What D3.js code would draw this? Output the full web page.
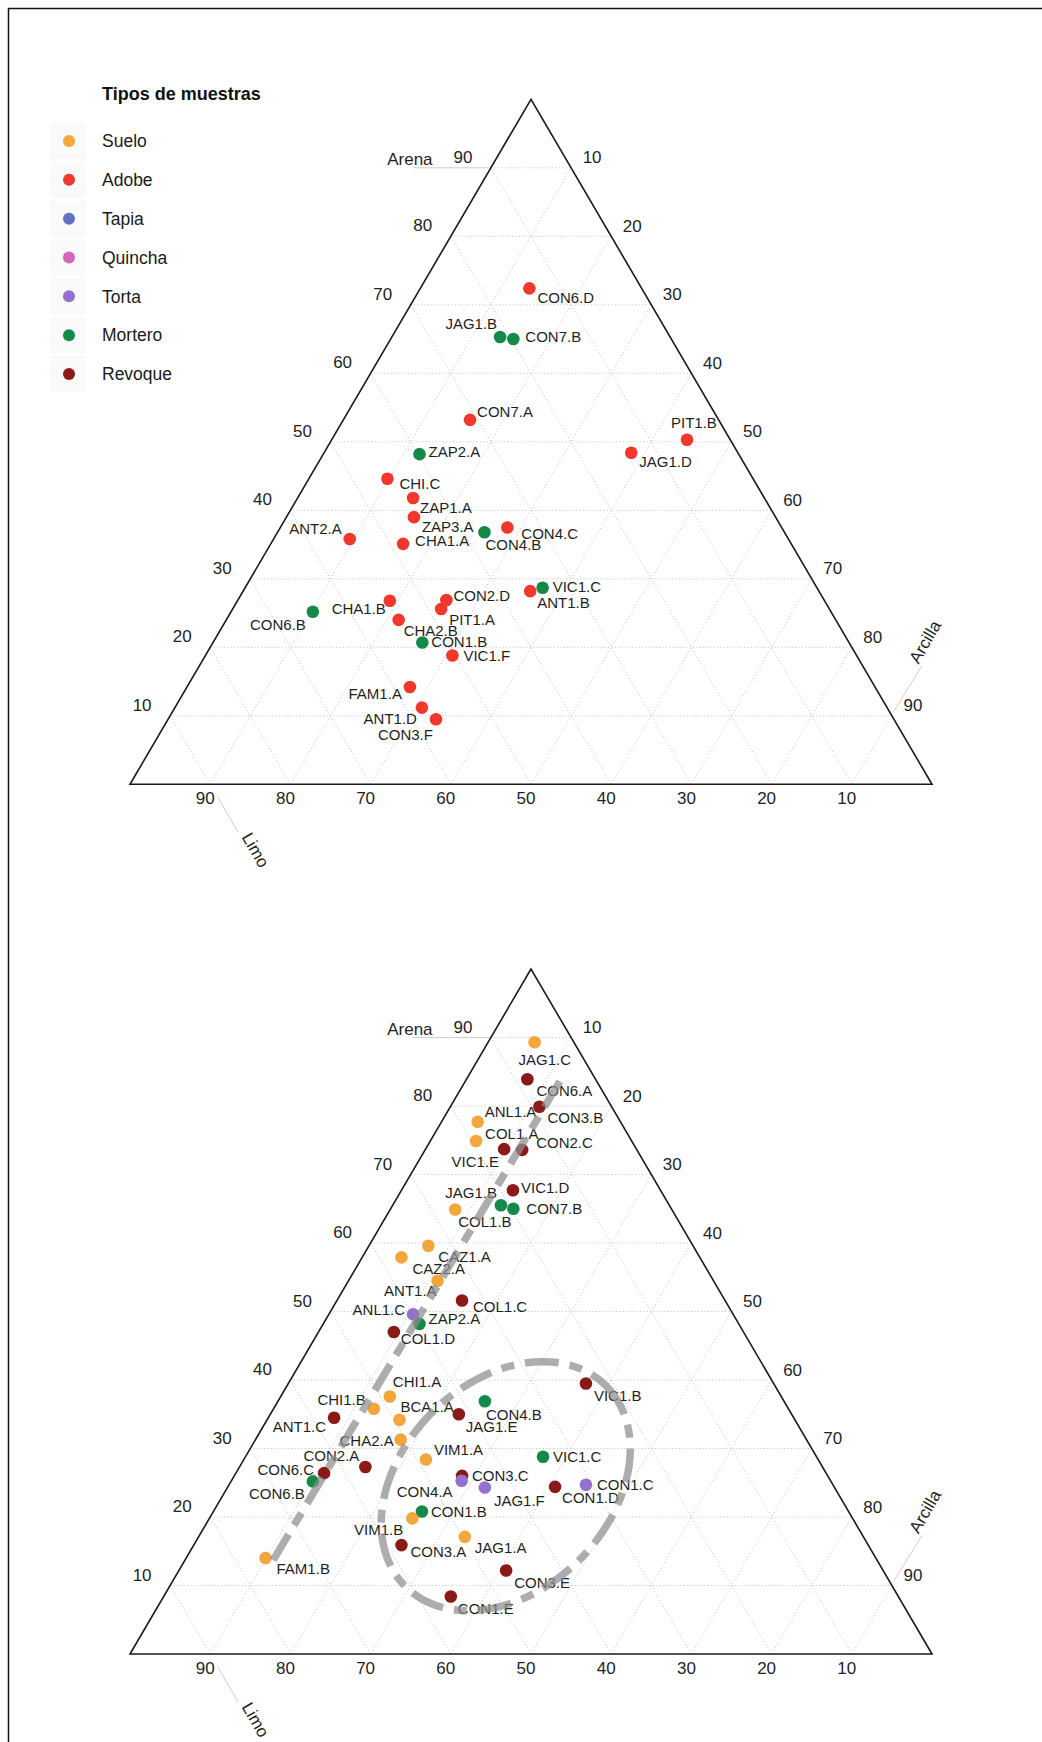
<!DOCTYPE html>
<html><head><meta charset="utf-8">
<script src="https://cdn.jsdelivr.net/npm/d3@7"></script>
<style>
body{margin:0;background:#fff}
svg{display:block}
text{font-family:"Liberation Sans",Arial,Helvetica,sans-serif}
</style>
</head><body>
<script>
// ---------------- DATA ----------------
const axisNames = ["Arena", "Limo", "Arcilla"];
const tickValues = [10, 20, 30, 40, 50, 60, 70, 80, 90];
const legendTitle = "Tipos de muestras";
const sampleTypes = ["Suelo", "Adobe", "Tapia", "Quincha", "Torta", "Mortero", "Revoque"];
const typeColors = ["#f2a63c", "#f2372c", "#6470c4", "#d468bd", "#9471d0", "#138a47", "#8a1a17"];

// Chart 1 (top): arena %, arcilla %, type  (limo = 100 - arena - arcilla)
const chart1Names   = ["CON6.D","JAG1.B","CON7.B","CON7.A","PIT1.B","JAG1.D","ZAP2.A","CHI.C","ZAP1.A","ZAP3.A","ANT2.A","CHA1.A","CON4.B","CON4.C","CHA1.B","CON6.B","CON2.D","PIT1.A","CHA2.B","CON1.B","VIC1.F","FAM1.A","ANT1.D","CON3.F","VIC1.C","ANT1.B"];
const chart1Arena   = [72.4, 65.3, 65.0, 53.2, 50.3, 48.4, 48.2, 44.6, 41.8, 39.0, 35.8, 35.1, 36.8, 37.5, 26.8, 25.2, 26.9, 25.6, 24.0, 20.7, 18.8, 14.2, 11.2, 9.5, 28.7, 28.2];
const chart1Arcilla = [13.6, 13.5, 15.3, 15.8, 44.3, 38.3, 12.0, 9.8, 14.4, 15.9, 9.5, 16.5, 25.8, 28.3, 19.0, 10.2, 26.0, 26.0, 21.5, 26.1, 30.8, 27.8, 30.8, 33.4, 37.1, 35.8];
const chart1Types   = ["Adobe","Mortero","Mortero","Adobe","Adobe","Adobe","Mortero","Adobe","Adobe","Adobe","Adobe","Adobe","Mortero","Adobe","Adobe","Mortero","Adobe","Adobe","Adobe","Mortero","Adobe","Adobe","Adobe","Adobe","Mortero","Adobe"];

// Chart 2 (bottom)
const chart2Names   = ["JAG1.C","CON6.A","CON3.B","ANL1.A","COL1.A","VIC1.E","CON2.C","VIC1.D","JAG1.B","CON7.B","COL1.B","CAZ1.A","CAZ2.A","ANT1.A","COL1.C","ANL1.C","ZAP2.A","COL1.D","CHI1.A","CHI1.B","BCA1.A","JAG1.E","CON4.B","ANT1.C","CHA2.A","VIM1.A","CON2.A","CON6.C","CON6.B","CON3.C","CON4.A","JAG1.F","CON1.D","CON1.C","CON1.B","VIM1.B","JAG1.A","CON3.A","CON3.E","CON1.E","FAM1.B","VIC1.B","VIC1.C"];
const chart2Arena   = [89.3, 83.9, 79.9, 77.7, 74.9, 73.7, 73.6, 67.7, 65.5, 65.0, 64.9, 59.6, 57.9, 54.5, 51.6, 49.6, 48.2, 47.0, 37.6, 35.8, 34.2, 35.0, 36.9, 34.5, 31.3, 28.4, 27.3, 26.4, 25.2, 26.0, 25.3, 24.3, 24.4, 24.7, 20.8, 19.8, 17.1, 15.9, 12.2, 8.4, 14.0, 39.5, 28.8];
const chart2Arcilla = [5.8, 7.6, 11.1, 4.5, 5.7, 9.8, 12.1, 13.9, 13.5, 15.3, 8.1, 7.4, 4.9, 11.1, 15.6, 10.5, 12.0, 9.4, 13.6, 12.5, 16.5, 23.5, 25.8, 8.2, 18.1, 22.7, 15.7, 11.0, 10.2, 28.4, 28.7, 32.1, 40.8, 44.5, 26.0, 25.3, 33.2, 25.9, 40.8, 35.8, 9.9, 37.1, 37.1];
const chart2Types   = ["Suelo","Revoque","Revoque","Suelo","Suelo","Revoque","Revoque","Revoque","Mortero","Mortero","Suelo","Suelo","Suelo","Suelo","Revoque","Torta","Mortero","Revoque","Suelo","Suelo","Suelo","Revoque","Mortero","Revoque","Suelo","Suelo","Revoque","Revoque","Mortero","Revoque","Torta","Torta","Revoque","Torta","Mortero","Suelo","Suelo","Revoque","Revoque","Revoque","Suelo","Revoque","Mortero"];

// Annotations on chart 2 (ternary units)
const trendArena   = [13.7, 84.2];
const trendArcilla = [11.0, 11.8];
const zoneCenter   = {arena: 24.5, arcilla: 34.6};
const zoneRadii    = [17.7, 13.0];
const zoneAngle    = -45;

// ---------------- LAYOUT (label nudges: dx, dy, anchor) ----------------
const nudge1 = {
  "CON6.D":[8,9,"start"],"JAG1.B":[-3,-13,"end"],"CON7.B":[12,-2,"start"],"CON7.A":[7,-8,"start"],
  "PIT1.B":[-16,-17,"start"],"JAG1.D":[8,9,"start"],"ZAP2.A":[9,-3,"start"],"CHI.C":[12,5,"start"],
  "ZAP1.A":[7,10,"start"],"ZAP3.A":[8,9,"start"],"ANT2.A":[-8,-10,"end"],"CHA1.A":[12,-3,"start"],
  "CON4.B":[1,12,"start"],"CON4.C":[14,6,"start"],"CHA1.B":[-4,8,"end"],"CON6.B":[-7,13,"end"],
  "CON2.D":[7,-4,"start"],"PIT1.A":[8,11,"start"],"CHA2.B":[5,11,"start"],"CON1.B":[9,-1,"start"],
  "VIC1.F":[11,0,"start"],"FAM1.A":[-8,7,"end"],"ANT1.D":[-5,11,"end"],"CON3.F":[-3,15,"end"],
  "VIC1.C":[10,-1,"start"],"ANT1.B":[7,11,"start"]
};
const nudge2 = {
  "JAG1.C":[-16,17,"start"],"CON6.A":[9,11,"start"],"CON3.B":[8,11,"start"],"ANL1.A":[7,-10,"start"],
  "COL1.A":[9,-7,"start"],"VIC1.E":[-5,12,"end"],"CON2.C":[14,-7,"start"],"VIC1.D":[8,-3,"start"],
  "JAG1.B":[-4,-13,"end"],"CON7.B":[13,0,"start"],"COL1.B":[3,12,"start"],"CAZ1.A":[10,11,"start"],
  "CAZ2.A":[11,11,"start"],"ANT1.A":[-1,10,"end"],"COL1.C":[11,6,"start"],"ANL1.C":[-8,-5,"end"],
  "ZAP2.A":[9,-5,"start"],"COL1.D":[7,7,"start"],"CHI1.A":[3,-15,"start"],"CHI1.B":[-8,-9,"end"],
  "BCA1.A":[1,-13,"start"],"JAG1.E":[7,12,"start"],"CON4.B":[1,13,"start"],"ANT1.C":[-8,9,"end"],
  "CHA2.A":[-7,1,"end"],"VIM1.A":[8,-10,"start"],"CON2.A":[-6,-11,"end"],"CON6.C":[-10,-4,"end"],
  "CON6.B":[-8,12,"end"],"CON3.C":[10,0,"start"],"CON4.A":[-9,11,"end"],"JAG1.F":[9,13,"start"],
  "CON1.D":[7,11,"start"],"CON1.C":[11,0,"start"],"CON1.B":[9,0,"start"],"VIM1.B":[-9,11,"end"],
  "JAG1.A":[10,11,"start"],"CON3.A":[9,7,"start"],"CON3.E":[8,12,"start"],"CON1.E":[7,12,"start"],
  "FAM1.B":[11,10,"start"],"VIC1.B":[8,12,"start"],"VIC1.C":[10,0,"start"]
};

// ---------------- DRAWING ----------------
const W = 1042, H = 1742;
const svg = d3.select("body").append("svg").attr("width", W).attr("height", H);
const color = d3.scaleOrdinal(sampleTypes, typeColors);

// frame
svg.append("path").attr("d", `M8.5,${H} L8.5,8.5 L${W},8.5`)
  .attr("fill", "none").attr("stroke", "#111").attr("stroke-width", 1.5);

// legend
const lg = svg.append("g");
lg.append("text").attr("x", 102).attr("y", 99.5).attr("font-size", 18).attr("font-weight", "bold")
  .attr("fill", "#111").text(legendTitle);
const legendY = d3.scalePoint(sampleTypes, [141, 374]);
sampleTypes.forEach(t => {
  lg.append("rect").attr("x", 50).attr("y", legendY(t) - 18).attr("width", 36).attr("height", 36).attr("fill", "#fafafa");
  lg.append("circle").attr("cx", 69).attr("cy", legendY(t)).attr("r", 6).attr("fill", color(t));
  lg.append("text").attr("x", 102).attr("y", legendY(t) + 6.2).attr("font-size", 17.5).attr("fill", "#1a1a1a").text(t);
});

function drawTernary(bottomY, names, arena, arcilla, types, nudge, annotate) {
  const left = 130, width = 802, height = 685;
  const yS = d3.scaleLinear().domain([0, 100]).range([bottomY, bottomY - height]);
  const cS = d3.scaleLinear().domain([0, 100]).range([0, width]);
  const pt = (a, c) => [left + cS(c) + cS(a) / 2, yS(a)];
  const g = svg.append("g");
  const line = d3.line();

  // grid
  const grid = g.append("g").attr("fill", "none").attr("stroke", "#c9c9c9")
    .attr("stroke-width", 1).attr("stroke-dasharray", "1.2 2.2");
  tickValues.forEach(v => {
    grid.append("path").attr("d", line([pt(v, 0), pt(v, 100 - v)]));          // arena const
    grid.append("path").attr("d", line([pt(0, v), pt(100 - v, v)]));          // arcilla const
    grid.append("path").attr("d", line([pt(0, 100 - v), pt(100 - v, 0)]));    // limo const
  });

  // axis arrows (faint)
  const fa = g.append("g").attr("stroke", "#cfcfcf").attr("stroke-width", 1).attr("fill", "none");
  const a90 = pt(90, 0);
  fa.append("path").attr("d", line([[a90[0] - 78, a90[1]], a90]));
  const l90 = pt(0, 10);
  fa.append("path").attr("d", line([[l90[0] + 7, l90[1] + 12], [l90[0] + 28, l90[1] + 48]]));
  const c90 = pt(10, 90);
  fa.append("path").attr("d", line([[c90[0] + 1, c90[1] - 3], [c90[0] + 30, c90[1] - 50]]));

  // triangle
  g.append("path").attr("d", line([pt(100, 0), pt(0, 0), pt(0, 100)]) + "Z")
    .attr("fill", "none").attr("stroke", "#1a1a1a").attr("stroke-width", 1.6).attr("stroke-linejoin", "miter");

  // tick labels
  const tl = g.append("g").attr("font-size", 17).attr("fill", "#1f1f1f").attr("text-anchor", "middle");
  tickValues.forEach(v => {
    const pa = pt(v, 0);
    tl.append("text").attr("x", pa[0] - 28).attr("y", pa[1] - 11 + 6).text(v);
    const pc = pt(100 - v, v);
    tl.append("text").attr("x", pc[0] + 21).attr("y", pc[1] - 10.5 + 6).text(v);
    const pl = pt(0, 100 - v);
    tl.append("text").attr("x", pl[0] - 5).attr("y", pl[1] + 14 + 6).text(v);
  });

  // axis titles
  g.append("text").attr("x", a90[0] - 81).attr("y", a90[1] - 9 + 6).attr("text-anchor", "middle")
    .attr("font-size", 17).attr("fill", "#1f1f1f").text(axisNames[0]);
  g.append("text").attr("transform", `translate(${l90[0] + 45.5},${l90[1] + 65.7}) rotate(60)`)
    .attr("text-anchor", "middle").attr("dy", "0.35em").attr("font-size", 17).attr("fill", "#1f1f1f").text(axisNames[1]);
  g.append("text").attr("transform", `translate(${c90[0] + 33},${c90[1] - 74}) rotate(-60)`)
    .attr("text-anchor", "middle").attr("dy", "0.35em").attr("font-size", 17).attr("fill", "#1f1f1f").text(axisNames[2]);

  // points
  const data = names.map((n, i) => ({name: n, a: arena[i], c: arcilla[i], t: types[i]}));
  g.append("g").selectAll("circle").data(data).join("circle")
    .attr("cx", d => pt(d.a, d.c)[0]).attr("cy", d => pt(d.a, d.c)[1])
    .attr("r", 6.3).attr("fill", d => color(d.t));
  g.append("g").attr("font-size", 15).attr("fill", "#1f1f1f").selectAll("text").data(data).join("text")
    .attr("x", d => pt(d.a, d.c)[0] + nudge[d.name][0])
    .attr("y", d => pt(d.a, d.c)[1] + nudge[d.name][1])
    .attr("dy", "0.36em")
    .attr("text-anchor", d => nudge[d.name][2])
    .text(d => d.name);

  if (annotate) {
    const ag = g.append("g").attr("fill", "none").attr("stroke", "#8e8e8e").attr("stroke-opacity", 0.72)
      .attr("stroke-width", 7.5);
    ag.append("path").attr("stroke-dasharray", "30 11 14 11")
      .attr("d", line([pt(trendArena[0], trendArcilla[0]), pt(trendArena[1], trendArcilla[1])]));
    const zc = pt(zoneCenter.arena, zoneCenter.arcilla);
    ag.append("ellipse").attr("stroke-dasharray", "34 11 13 11").attr("cx", zc[0]).attr("cy", zc[1])
      .attr("rx", cS(zoneRadii[0])).attr("ry", cS(zoneRadii[1]))
      .attr("transform", `rotate(${zoneAngle},${zc[0]},${zc[1]})`);
  }
}

drawTernary(784.3, chart1Names, chart1Arena, chart1Arcilla, chart1Types, nudge1, false);
drawTernary(1654, chart2Names, chart2Arena, chart2Arcilla, chart2Types, nudge2, true);
</script>
</body></html>
